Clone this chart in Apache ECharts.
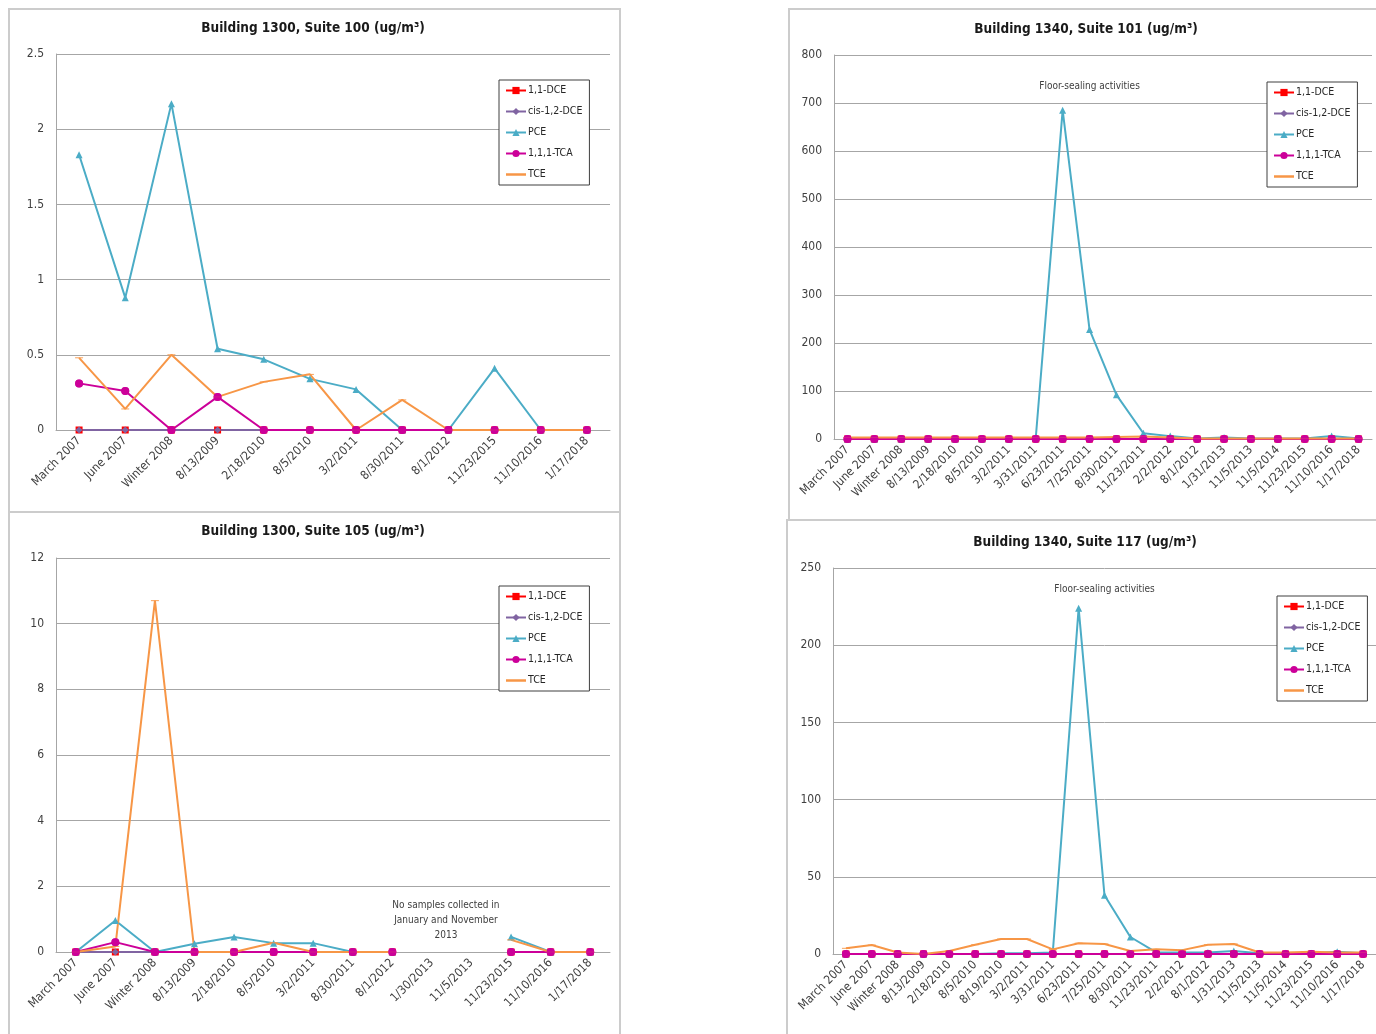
<!DOCTYPE html>
<html>
<head>
<meta charset="utf-8">
<title>Indoor air concentrations</title>
<script src="https://cdn.jsdelivr.net/npm/echarts@6/dist/echarts.min.js"></script>
<style>
  html, body { margin: 0; padding: 0; background: #fff; overflow: hidden; }
  #chart { width: 1376px; height: 1034px; }
</style>
</head>
<body>
<div id="chart"></div>
<script>
// ---- data ---------------------------------------------------------------
const compounds = ['1,1-DCE', 'cis-1,2-DCE', 'PCE', '1,1,1-TCA', 'TCE'];

// Building 1300, Suite 100
const datesS100 = ['March 2007', 'June 2007', 'Winter 2008', '8/13/2009', '2/18/2010', '8/5/2010',
  '3/2/2011', '8/30/2011', '8/1/2012', '11/23/2015', '11/10/2016', '1/17/2018'];
const dceS100 = [0, 0, 0, 0, 0, 0, 0, 0, 0, 0, 0, 0];
const cisS100 = [0, 0, 0, 0, 0, 0, 0, 0, 0, 0, 0, 0];
const pceS100 = [1.83, 0.88, 2.17, 0.54, 0.47, 0.34, 0.27, 0, 0, 0.41, 0, 0];
const tcaS100 = [0.31, 0.26, 0, 0.22, 0, 0, 0, 0, 0, 0, 0, 0];
const tceS100 = [0.48, 0.14, 0.50, 0.22, 0.32, 0.37, 0, 0.20, 0, 0, 0, 0];

// Building 1340, Suite 101
const datesS101 = ['March 2007', 'June 2007', 'Winter 2008', '8/13/2009', '2/18/2010', '8/5/2010',
  '3/2/2011', '3/31/2011', '6/23/2011', '7/25/2011', '8/30/2011', '11/23/2011', '2/2/2012',
  '8/1/2012', '1/31/2013', '11/5/2013', '11/5/2014', '11/23/2015', '11/10/2016', '1/17/2018'];
const dceS101 = [0, 0, 0, 0, 0, 0, 0, 0, 0, 0, 0, 0, 0, 0, 0, 0, 0, 0, 0, 0];
const cisS101 = [0, 0, 0, 0, 0, 0, 0, 0, 0, 0, 0, 0, 0, 0, 0, 0, 0, 0, 0, 0];
const pceS101 = [0, 0, 0, 0, 0, 0, 0, 2, 685, 228, 92, 12, 6, 1, 3, 1, 1, 1, 6, 1];
const tcaS101 = [0, 0, 0, 0, 0, 0, 0, 0, 0, 0, 0, 0, 0, 0, 0, 0, 0, 0, 0, 0];
const tceS101 = [3, 3, 3, 3, 3, 3, 3, 3, 3, 3, 4, 5, 3, 1, 1, 1, 1, 1, 1, 1];

// Building 1300, Suite 105
const datesS105 = ['March 2007', 'June 2007', 'Winter 2008', '8/13/2009', '2/18/2010', '8/5/2010',
  '3/2/2011', '8/30/2011', '8/1/2012', '1/30/2013', '11/5/2013', '11/23/2015', '11/10/2016', '1/17/2018'];
const dceS105 = [0, 0, 0, 0, 0, 0, 0, 0, 0, null, null, 0, 0, 0];
const cisS105 = [0, 0, 0, 0, 0, 0, 0, 0, 0, null, null, 0, 0, 0];
const pceS105 = [0, 0.96, 0, 0.25, 0.46, 0.27, 0.27, 0, 0, null, null, 0.46, 0, 0];
const tcaS105 = [0, 0.30, 0, 0, 0, 0, 0, 0, 0, null, null, 0, 0, 0];
const tceS105 = [0, 0.17, 10.7, 0, 0, 0.28, 0, 0, 0, null, null, 0.37, 0, 0];

// Building 1340, Suite 117
const datesS117 = ['March 2007', 'June 2007', 'Winter 2008', '8/13/2009', '2/18/2010', '8/5/2010',
  '8/19/2010', '3/2/2011', '3/31/2011', '6/23/2011', '7/25/2011', '8/30/2011', '11/23/2011',
  '2/2/2012', '8/1/2012', '1/31/2013', '11/5/2013', '11/5/2014', '11/23/2015', '11/10/2016', '1/17/2018'];
const dceS117 = [0, 0, 0, 0, 0, 0, 0, 0, 0, 0, 0, 0, 0, 0, 0, 0, 0, 0, 0, 0, 0];
const cisS117 = [0, 0, 0, 0, 0, 0, 0, 0, 0, 0, 0, 0, 0, 0, 0, 0, 0, 0, 0, 0, 0];
const pceS117 = [0, 0, 0, 0, 0, 0, 0.5, 0.5, 1, 224, 38, 11, 1, 1, 1, 2, 0.5, 0.5, 0.5, 1.5, 0.5];
const tcaS117 = [0, 0, 0, 0, 0, 0, 0, 0, 0, 0, 0, 0, 0, 0, 0, 0, 0, 0, 0, 0, 0];
const tceS117 = [3.7, 5.8, 1, 0, 2, 6, 9.7, 9.7, 3, 7, 6.5, 2, 3, 2.5, 6, 6.5, 1, 1, 1.5, 1, 1];

// ---- styling ------------------------------------------------------------
const FONT = "'Liberation Sans Narrow','DejaVu Sans Condensed','Liberation Sans',sans-serif";
const TEXT = '#404040';
const GRID_LINE = '#a6a6a6';

// short horizontal dash used as the TCE point marker
const DASH = 'path://M0,0L10,0L10,3L0,3Z';

const compoundStyle = {
  '1,1-DCE':     { color: '#ff0000', symbol: 'rect',     size: 7 },
  'cis-1,2-DCE': { color: '#8064a2', symbol: 'diamond',  size: 7 },
  'PCE':         { color: '#4bacc6', symbol: 'triangle', size: 7 },
  '1,1,1-TCA':   { color: '#cc0099', symbol: 'circle',   size: 8 },
  'TCE':         { color: '#f79646', symbol: DASH,       size: [8, 3] }
};

// legend entries; TCE shows as a plain line
const legendItems = compounds.map(name =>
  name === 'TCE' ? { name, icon: 'path://M0,0L20,0L20,2.5L0,2.5Z' } : { name });

// one entry per chart panel
const panels = [
  {
    title: 'Building 1300, Suite 100 (ug/m\u00b3)', titleX: 313, titleY: 28,
    dates: datesS100, values: [dceS100, cisS100, pceS100, tcaS100, tceS100],
    max: 2.5, interval: 0.5,
    grid: { left: 56, top: 54, width: 554, height: 376 },
    legend: { left: 499, top: 80 },
    frame: { x: 9, y: 9, width: 611, height: 503 }
  },
  {
    title: 'Building 1340, Suite 101 (ug/m\u00b3)', titleX: 1086, titleY: 29,
    dates: datesS101, values: [dceS101, cisS101, pceS101, tcaS101, tceS101],
    max: 800, interval: 100,
    grid: { left: 834, top: 55, width: 538, height: 384 },
    legend: { left: 1267, top: 82 },
    frame: { x: 789, y: 9, width: 620, height: 511 },
    note: { text: 'Floor-sealing activities', at: ['7/25/2011', 735], offset: [0, 0] }
  },
  {
    title: 'Building 1300, Suite 105 (ug/m\u00b3)', titleX: 313, titleY: 531,
    dates: datesS105, values: [dceS105, cisS105, pceS105, tcaS105, tceS105],
    max: 12, interval: 2,
    grid: { left: 56, top: 558, width: 554, height: 394 },
    legend: { left: 499, top: 586 },
    frame: { x: 9, y: 512, width: 611, height: 540 },
    note: { text: 'No samples collected in\nJanuary and November\n2013', at: ['1/30/2013', 0.97], offset: [14, 0] }
  },
  {
    title: 'Building 1340, Suite 117 (ug/m\u00b3)', titleX: 1085, titleY: 542,
    dates: datesS117, values: [dceS117, cisS117, pceS117, tcaS117, tceS117],
    max: 250, interval: 50,
    grid: { left: 833, top: 568, width: 543, height: 386 },
    legend: { left: 1277, top: 596 },
    frame: { x: 787, y: 520, width: 620, height: 540 },
    note: { text: 'Floor-sealing activities', at: ['7/25/2011', 236], offset: [0, 0] }
  }
];

// ---- option -------------------------------------------------------------
const grids = [], xAxes = [], yAxes = [], series = [], legends = [], graphics = [];

panels.forEach((p, i) => {
  grids.push(Object.assign({ containLabel: false }, p.grid));

  xAxes.push({
    type: 'category', gridIndex: i, data: p.dates, boundaryGap: true,
    axisLine: { lineStyle: { color: GRID_LINE, width: 1 } },
    axisTick: { show: false },
    splitLine: { show: false },
    axisLabel: { rotate: 45, interval: 0, margin: 9, fontSize: 12, fontFamily: FONT, color: TEXT }
  });

  yAxes.push({
    type: 'value', gridIndex: i, min: 0, max: p.max, interval: p.interval,
    axisLine: { show: true, lineStyle: { color: GRID_LINE, width: 1 } },
    axisTick: { show: false },
    splitLine: { lineStyle: { color: GRID_LINE, width: 1 } },
    axisLabel: { margin: 12, fontSize: 12, fontFamily: FONT, color: TEXT }
  });

  compounds.forEach((name, k) => {
    const st = compoundStyle[name];
    const s = {
      type: 'line', name, data: p.values[k],
      xAxisIndex: i, yAxisIndex: i,
      symbol: st.symbol, symbolSize: st.size, symbolKeepAspect: true, showSymbol: true,
      lineStyle: { color: st.color, width: 2 },
      itemStyle: { color: st.color },
      connectNulls: false, animation: false,
      emphasis: { disabled: true }
    };
    if (name === 'TCE' && p.note) {
      s.markPoint = {
        silent: true, symbol: 'circle', symbolSize: 0, animation: false,
        label: {
          show: true, position: 'inside', offset: p.note.offset,
          fontSize: 10, lineHeight: 15, fontFamily: FONT, color: TEXT, align: 'center',
          formatter: p.note.text
        },
        data: [{ coord: p.note.at }]
      };
    }
    series.push(s);
  });

  // 1,1,1-TCA markers sit above every line in the panel
  const tca = compoundStyle['1,1,1-TCA'];
  series.push({
    type: 'scatter', name: '1,1,1-TCA', data: p.values[3],
    xAxisIndex: i, yAxisIndex: i, z: 4,
    symbol: tca.symbol, symbolSize: tca.size,
    itemStyle: { color: tca.color }, animation: false, silent: true
  });

  legends.push({
    data: legendItems, orient: 'vertical',
    left: p.legend.left, top: p.legend.top,
    padding: [5, 7, 5, 6], itemGap: 10, itemWidth: 20, itemHeight: 9,
    borderColor: '#3f3f3f', borderWidth: 1, backgroundColor: '#fff',
    selectedMode: false,
    textStyle: { fontSize: 10.5, fontFamily: FONT, color: '#262626', padding: [0, 0, 0, -3] }
  });

  graphics.push({
    type: 'rect', silent: true, z: -10,
    shape: p.frame,
    style: { fill: null, stroke: '#cccccc', lineWidth: 2 }
  });
  graphics.push({
    type: 'text', silent: true, x: p.titleX, y: p.titleY,
    style: {
      text: p.title, align: 'center', verticalAlign: 'middle',
      font: "bold 13.5px " + FONT, fill: '#1a1a1a'
    }
  });
});

const chart = echarts.init(document.getElementById('chart'), null, { renderer: 'canvas' });
chart.setOption({
  backgroundColor: '#ffffff',
  animation: false,
  grid: grids,
  xAxis: xAxes,
  yAxis: yAxes,
  legend: legends,
  series: series,
  graphic: graphics
});
</script>
</body>
</html>
